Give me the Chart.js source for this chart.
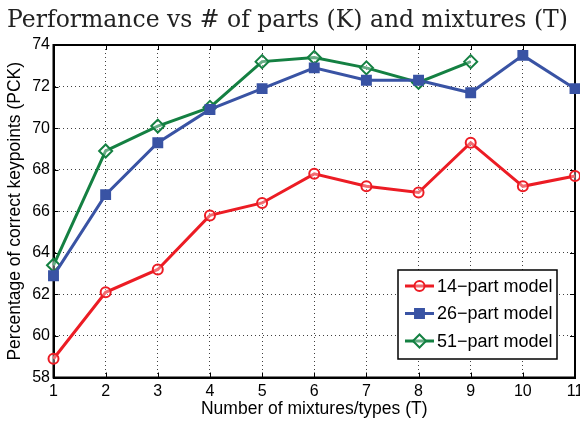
<!DOCTYPE html>
<html>
<head>
<meta charset="utf-8">
<title>Performance vs # of parts (K) and mixtures (T)</title>
<script src="https://cdn.jsdelivr.net/npm/chart.js@4.4.1/dist/chart.umd.min.js"></script>
<style>
  html, body { margin: 0; padding: 0; background: #fff; }
  #wrap { width: 580px; height: 421px; }
</style>
</head>
<body>
<div id="wrap"><canvas id="pckChart" width="580" height="421"></canvas></div>
<script>
// values
const mixtures = [1, 2, 3, 4, 5, 6, 7, 8, 9, 10, 11];
const pck14 = [58.9, 62.1, 63.2, 65.8, 66.4, 67.8, 67.2, 66.9, 69.3, 67.2, 67.7];
const pck26 = [62.9, 66.8, 69.3, 70.9, 71.9, 72.9, 72.3, 72.3, 71.7, 73.5, 71.9];
const pck51 = [63.4, 68.9, 70.1, 71.0, 73.2, 73.4, 72.9, 72.2, 73.2, null, null];

const xTicks = [1, 2, 3, 4, 5, 6, 7, 8, 9, 10, 11];
const yTicks = [58, 60, 62, 64, 66, 68, 70, 72, 74];

const seriesNames = ['14\u2212part model', '26\u2212part model', '51\u2212part model'];
const seriesColors = ['#ec1c24', '#3953a4', '#148042'];

function toPoints(values) {
    return mixtures
        .map((t, i) => ({ x: t, y: values[i] }))
        .filter(p => p.y !== null);
}

// no extra room for half tick labels at the ends (the "11" gets cut, like the original)
const noPadding = () => ({ left: 0, top: 0, right: 0, bottom: 0 });

// box round the plot + little inward ticks (matlab style)
const framePlugin = {
    id: 'frame',
    beforeDatasetsDraw(chart) {
        const { ctx, chartArea: a, scales } = chart;
        ctx.save();
        ctx.strokeStyle = '#000';
        ctx.lineWidth = 1;
        ctx.beginPath();
        scales.x.ticks.forEach(t => {
            const px = Math.round(scales.x.getPixelForValue(t.value)) + 0.5;
            ctx.moveTo(px, a.bottom); ctx.lineTo(px, a.bottom - 5);
            ctx.moveTo(px, a.top); ctx.lineTo(px, a.top + 5);
        });
        scales.y.ticks.forEach(t => {
            const py = Math.round(scales.y.getPixelForValue(t.value)) + 0.5;
            ctx.moveTo(a.left, py); ctx.lineTo(a.left + 5, py);
            ctx.moveTo(a.right, py); ctx.lineTo(a.right - 5, py);
        });
        ctx.stroke();
        ctx.lineWidth = 2;
        ctx.strokeRect(a.left, a.top, a.width, a.height);
        ctx.restore();
    }
};

// legend box in the lower right corner
const legendPlugin = {
    id: 'boxLegend',
    afterDraw(chart) {
        const ctx = chart.ctx;
        const bx = 398, by = 270, bw = 159, bh = 89;
        ctx.save();
        ctx.fillStyle = '#fff';
        ctx.fillRect(bx, by, bw, bh);
        ctx.strokeStyle = '#000';
        ctx.lineWidth = 1.5;
        ctx.strokeRect(bx, by, bw, bh);

        chart.data.datasets.forEach((ds, i) => {
            const y = 286 + i * 27.5;
            ctx.strokeStyle = ds.borderColor;
            ctx.lineWidth = ds.borderWidth;
            ctx.beginPath();
            ctx.moveTo(405, y);
            ctx.lineTo(434, y);
            ctx.stroke();

            ctx.fillStyle = ds.pointBackgroundColor;
            ctx.lineWidth = ds.pointBorderWidth;
            Chart.helpers.drawPoint(ctx, {
                pointStyle: ds.pointStyle,
                radius: ds.pointRadius,
                borderWidth: ds.pointBorderWidth,
                rotation: 0
            }, 419.5, y);

            ctx.fillStyle = '#000';
            ctx.font = '18px "Liberation Sans", Arial, sans-serif';
            ctx.textBaseline = 'middle';
            ctx.textAlign = 'left';
            ctx.fillText(ds.label, 437, y + 1);
        });
        ctx.restore();
    }
};

function makeDataset(i, values, style, radius, fill) {
    return {
        label: seriesNames[i],
        data: toPoints(values),
        borderColor: seriesColors[i],
        backgroundColor: seriesColors[i],
        pointBackgroundColor: fill,
        pointBorderColor: seriesColors[i],
        borderWidth: 3,
        pointBorderWidth: 2,
        pointStyle: style,
        pointRadius: radius,
        tension: 0,
        clip: false
    };
}

function initChart() {
    Chart.defaults.font.family = '"Liberation Sans", Arial, sans-serif';
    Chart.defaults.color = '#000';

    const ctx = document.getElementById('pckChart').getContext('2d');
    new Chart(ctx, {
        type: 'line',
        data: {
            datasets: [
                makeDataset(0, pck14, 'circle', 5, 'rgba(255,255,255,0.35)'),
                makeDataset(1, pck26, 'rect', 6.3, seriesColors[1]),
                makeDataset(2, pck51, 'rectRot', 6.5, 'rgba(255,255,255,0.35)')
            ]
        },
        options: {
            responsive: false,
            animation: false,
            events: [],
            layout: { autoPadding: false, padding: { top: 0, right: 5, bottom: 0, left: 0 } },
            plugins: {
                legend: { display: false },
                tooltip: { enabled: false },
                title: {
                    display: true,
                    text: 'Performance vs # of parts (K) and mixtures (T)',
                    color: '#222',
                    font: { family: '"DejaVu Serif", serif', size: 23.5, weight: 'normal' },
                    padding: { top: 7, bottom: 9.8 }
                }
            },
            scales: {
                x: {
                    type: 'linear',
                    min: 1,
                    max: 11,
                    afterBuildTicks: s => { s.ticks = xTicks.map(v => ({ value: v })); },
                    afterFit: s => {
                        s.height = 43.5;
                        s.paddingLeft = 0;
                        s.paddingRight = 0;
                        s.getPadding = noPadding;
                    },
                    ticks: { font: { size: 16 }, padding: 4, maxRotation: 0, autoSkip: false },
                    grid: { color: 'rgba(0,0,0,0.75)', lineWidth: 1, drawTicks: false },
                    border: { display: true, color: '#000', width: 2, dash: [1, 3] },
                    title: {
                        display: true,
                        text: 'Number of mixtures/types (T)',
                        font: { size: 17.5 },
                        padding: { top: 0, bottom: 1.5 }
                    }
                },
                y: {
                    min: 58,
                    max: 74,
                    afterBuildTicks: s => { s.ticks = yTicks.map(v => ({ value: v })); },
                    afterFit: s => {
                        s.width = 53.5;
                        s.paddingTop = 0;
                        s.paddingBottom = 0;
                        s.getPadding = noPadding;
                    },
                    ticks: { font: { size: 16 }, padding: 3.5 },
                    grid: { color: 'rgba(0,0,0,0.75)', lineWidth: 1, drawTicks: false },
                    border: { display: true, color: '#000', width: 2, dash: [1, 3] },
                    title: {
                        display: true,
                        text: 'Percentage of correct keypoints (PCK)',
                        font: { size: 17.5 },
                        padding: { top: 4.5, bottom: 0 }
                    }
                }
            }
        },
        plugins: [framePlugin, legendPlugin]
    });
}

window.onload = initChart;
</script>
</body>
</html>
